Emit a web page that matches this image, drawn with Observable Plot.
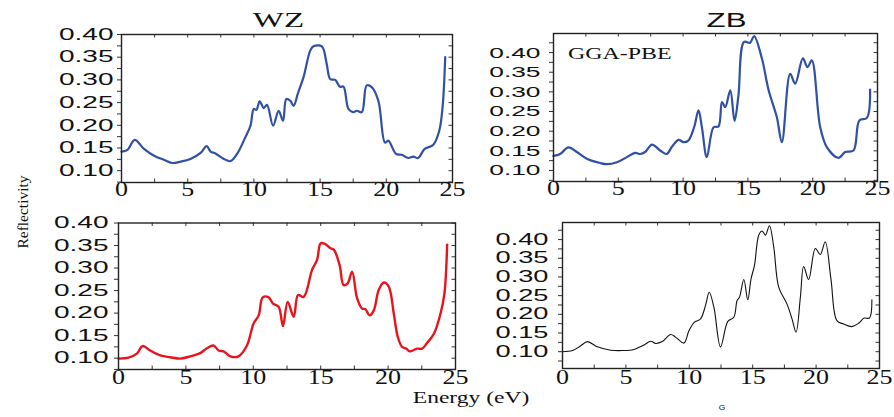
<!DOCTYPE html>
<html>
<head>
<meta charset="utf-8">
<script src="https://cdn.jsdelivr.net/npm/d3@7"></script>
<script src="https://cdn.jsdelivr.net/npm/@observablehq/plot@0.6"></script>
<style>
  html, body { margin: 0; padding: 0; background: #fff; }
  #chart { position: relative; width: 894px; height: 417px; overflow: hidden; background: #fff; }
  #chart svg { position: absolute; left: 0; top: 0; }
</style>
</head>
<body>
<div id="chart"></div>
<script>
// ---------- data (energy eV, reflectivity) ----------
const wzTop = [[0,0.142],[0.45,0.146],[1.0,0.168],[1.7,0.148],[2.46,0.133],[3.2,0.124],[3.84,0.117],[4.47,0.120],[5.2,0.126],[6.0,0.140],[6.43,0.154],[6.73,0.142],[7.1,0.138],[7.73,0.126],[8.23,0.121],[8.73,0.137],[9.36,0.174],[9.74,0.199],[9.99,0.236],[10.19,0.234],[10.44,0.253],[10.74,0.238],[10.99,0.245],[11.45,0.199],[11.87,0.232],[12.2,0.210],[12.45,0.258],[12.75,0.254],[13.0,0.243],[13.33,0.271],[13.75,0.306],[14.26,0.365],[14.5,0.374],[15.13,0.374],[15.5,0.335],[15.76,0.302],[16.14,0.300],[16.5,0.285],[16.77,0.285],[17.14,0.236],[17.5,0.229],[17.77,0.232],[18.15,0.229],[18.52,0.288],[18.9,0.284],[19.4,0.254],[19.9,0.162],[20.16,0.166],[20.73,0.137],[21.16,0.135],[21.66,0.128],[22.04,0.131],[22.4,0.128],[22.9,0.148],[23.55,0.157],[24.0,0.188],[24.25,0.240],[24.45,0.350]];
const zbTop = [[0,0.137],[0.51,0.142],[1.16,0.159],[1.8,0.147],[2.57,0.130],[3.6,0.119],[4.1,0.116],[4.9,0.121],[5.66,0.134],[6.3,0.145],[6.7,0.142],[7.07,0.147],[7.6,0.166],[8.23,0.151],[8.74,0.142],[9.13,0.160],[9.65,0.178],[10.03,0.172],[10.4,0.176],[10.85,0.210],[11.19,0.253],[11.45,0.210],[11.83,0.134],[12.35,0.210],[12.73,0.212],[13.0,0.274],[13.25,0.261],[13.64,0.304],[13.97,0.226],[14.27,0.291],[14.7,0.427],[15.17,0.425],[15.48,0.442],[16.08,0.385],[16.6,0.304],[17.23,0.236],[17.62,0.172],[18.26,0.346],[18.65,0.321],[19.24,0.385],[19.6,0.363],[19.93,0.380],[20.58,0.210],[21.1,0.159],[22.0,0.132],[22.5,0.147],[23.15,0.151],[23.6,0.227],[24.18,0.234],[24.43,0.306]];
const wzBottom = [[0,0.099],[0.74,0.101],[1.36,0.110],[1.8,0.127],[2.35,0.117],[3.1,0.106],[3.84,0.102],[4.58,0.099],[5.32,0.104],[6.06,0.111],[6.56,0.122],[7.05,0.128],[7.43,0.117],[7.8,0.115],[8.3,0.104],[8.9,0.104],[9.53,0.128],[10.02,0.177],[10.4,0.195],[10.7,0.235],[11.14,0.235],[11.46,0.221],[11.88,0.214],[12.2,0.171],[12.55,0.225],[13.0,0.192],[13.32,0.240],[13.74,0.236],[14.36,0.296],[14.73,0.318],[15.0,0.355],[15.35,0.353],[15.72,0.344],[15.97,0.341],[16.4,0.307],[16.7,0.262],[17.0,0.266],[17.33,0.292],[17.7,0.233],[18.07,0.210],[18.3,0.209],[18.64,0.195],[18.94,0.206],[19.3,0.251],[19.68,0.268],[20.05,0.259],[20.42,0.199],[20.72,0.147],[21.04,0.125],[21.36,0.121],[21.6,0.115],[22.15,0.121],[22.52,0.121],[22.9,0.134],[23.4,0.154],[23.89,0.199],[24.18,0.244],[24.38,0.352]];
const zbBottom = [[0,0.100],[0.79,0.103],[1.44,0.116],[1.97,0.127],[2.75,0.113],[3.8,0.104],[4.72,0.103],[5.64,0.106],[6.43,0.118],[6.95,0.128],[7.35,0.122],[7.87,0.127],[8.53,0.146],[8.92,0.139],[9.58,0.123],[9.97,0.156],[10.41,0.179],[10.89,0.188],[11.28,0.224],[11.57,0.259],[11.94,0.219],[12.46,0.113],[13.04,0.181],[13.51,0.192],[13.77,0.237],[13.96,0.246],[14.3,0.293],[14.61,0.239],[14.87,0.295],[15.14,0.331],[15.48,0.412],[15.74,0.423],[16.0,0.412],[16.32,0.437],[16.66,0.380],[17.05,0.273],[17.7,0.228],[18.1,0.188],[18.42,0.152],[18.76,0.246],[19.02,0.328],[19.41,0.293],[19.94,0.376],[20.33,0.360],[20.72,0.394],[21.17,0.295],[21.64,0.183],[22.17,0.174],[22.82,0.167],[23.35,0.176],[23.79,0.190],[24.21,0.190],[24.4,0.239]];

const xTickLabels = [0, 5, 10, 15, 20, 25];
const xMinorTicks = [0, 2.5, 5, 7.5, 10, 12.5, 15, 17.5, 20, 22.5, 25];
const yTickLabels = [0.10, 0.15, 0.20, 0.25, 0.30, 0.35, 0.40];
const yMinorTicks = [0.075, 0.10, 0.125, 0.15, 0.175, 0.20, 0.225, 0.25, 0.275, 0.30, 0.325, 0.35, 0.375, 0.40, 0.425];

const W = 894, H = 417;
const SANS = "'Liberation Sans', Arial, sans-serif";
const SERIF = "'Liberation Serif', 'Times New Roman', serif";

function stretchGroup(g, sx) {
  if (!g) return;
  g.querySelectorAll("text").forEach(t => {
    let tr = t.getAttribute("transform") || "";
    const x = t.getAttribute("x");
    if (x != null && !/em$/.test(x)) { tr += ` translate(${x},0)`; t.removeAttribute("x"); }
    t.setAttribute("transform", `${tr} scale(${sx},1)`);
  });
}

function panel(o) {
  const [l, r, t, b] = o.frame;
  const fw = r - l, fh = b - t;
  const yTicks = yMinorTicks.filter(v => v >= o.yDomain[0] - 1e-9 && v <= o.yDomain[1] + 1e-9);
  const rows = o.data.map(([e, v]) => ({e, v}));
  const svg = Plot.plot({
    width: W, height: H,
    marginLeft: l, marginRight: W - r, marginTop: t, marginBottom: H - b,
    x: {domain: [0, 25], axis: null},
    y: {domain: o.yDomain, axis: null},
    style: {background: "transparent", overflow: "visible"},
    marks: [
      Plot.tickX(xMinorTicks, {x: d => d, insetTop: fh - 3.5, stroke: "#333", strokeWidth: 1}),
      Plot.tickX(xMinorTicks, {x: d => d, insetBottom: fh - 3.5, stroke: "#333", strokeWidth: 1}),
      Plot.tickY(yTicks, {y: d => d, insetLeft: -4, insetRight: fw, stroke: "#333", strokeWidth: 1}),
      Plot.tickY(yTicks, {y: d => d, insetLeft: fw - 3.5, stroke: "#333", strokeWidth: 1}),
      Plot.line(rows, {x: "e", y: "v", stroke: o.color, strokeWidth: o.lw, curve: "catmull-rom"}),
      Plot.frame({stroke: "#222", strokeWidth: 1.4}),
      Plot.text(xTickLabels, {x: d => d, text: d => String(d), frameAnchor: "bottom", dy: o.xDy,
        fontFamily: SERIF, fontSize: 20, fill: "#111"}),
      Plot.text(yTickLabels, {y: d => d, text: d => d.toFixed(2), frameAnchor: "left", dx: -o.yDx,
        textAnchor: "end", fontFamily: SANS, fontSize: o.yFont, fill: "#111"})
    ]
  });
  const groups = svg.querySelectorAll('g[aria-label="text"]');
  stretchGroup(groups[0], 1.3);
  stretchGroup(groups[1], 1.7);
  document.getElementById("chart").appendChild(svg);
}

panel({frame: [121, 452, 34, 182], yDomain: [0.074, 0.40], data: wzTop, color: "#3050a6", lw: 2.2, xDy: 13, yDx: 8, yFont: 16.5});
panel({frame: [553, 877, 33, 181], yDomain: [0.072, 0.4485], data: zbTop, color: "#3050a6", lw: 2.2, xDy: 13.5, yDx: 13, yFont: 15.5});
panel({frame: [118, 455, 222.5, 369], yDomain: [0.0748, 0.40], data: wzBottom, color: "#e8141c", lw: 2.4, xDy: 14.5, yDx: 10, yFont: 16.5});
panel({frame: [562, 879, 222, 368], yDomain: [0.055, 0.4457], data: zbBottom, color: "#111", lw: 1.1, xDy: 15.5, yDx: 14, yFont: 16});

// ---------- annotation texts ----------
const ann = d3.select("#chart").append("svg").attr("width", W).attr("height", H);
function label(txt, x, y, size, family, sx, anchor = "middle", rotate = 0) {
  ann.append("text")
    .attr("transform", `translate(${x},${y}) rotate(${rotate}) scale(${sx},1)`)
    .attr("text-anchor", anchor)
    .attr("font-family", family)
    .attr("font-size", size)
    .attr("fill", "#111")
    .text(txt);
}
label("WZ", 278.5, 27, 22, SERIF, 1.5);
label("ZB", 726.5, 27, 19.5, SANS, 1.6);
label("GGA-PBE", 568, 59, 16.5, SERIF, 1.45, "start");
label("Reflectivity", 28, 212, 15.5, SERIF, 1, "middle", -90);
label("Energy (eV)", 471, 403, 16, SERIF, 1.47);
label("G", 722, 410, 6.5, SANS, 1.3);
</script>
</body>
</html>
